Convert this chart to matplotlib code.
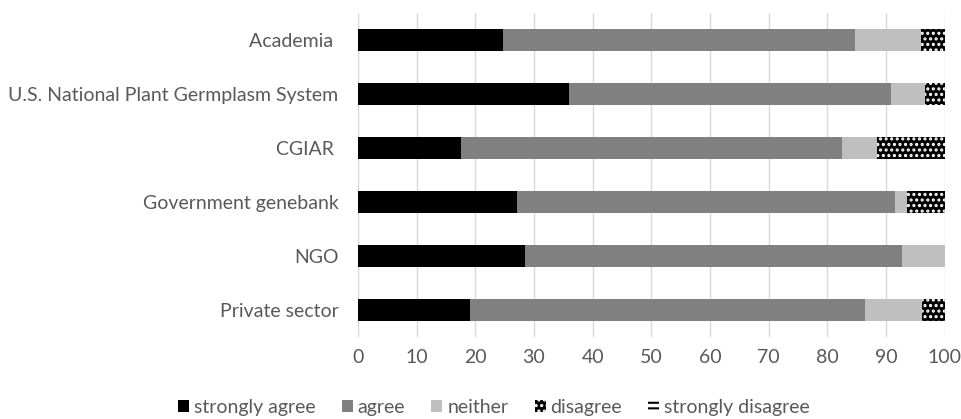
import matplotlib
matplotlib.use("Agg")
import matplotlib.pyplot as plt
import matplotlib.patches as mpatches
import numpy as np

plt.rcParams["font.family"] = ["Lato", "DejaVu Sans"]
plt.rcParams["hatch.linewidth"] = 1.5

categories = ["Academia ", "U.S. National Plant Germplasm System", "CGIAR ",
              "Government genebank", "NGO", "Private sector"]
strongly_agree = [24.7, 36.0, 17.5, 27.1, 28.4, 19.1]
agree = [60.0, 54.8, 65.0, 64.5, 64.4, 67.4]
neither = [11.3, 5.8, 5.9, 1.9, 7.2, 9.6]
disagree = [4.0, 3.4, 11.6, 6.5, 0.0, 3.9]
strongly_disagree = [0, 0, 0, 0, 0, 0]

text_col = "#595959"

fig = plt.figure(figsize=(9.61, 4.19), dpi=100)
ax = fig.add_axes([0.3725, 0.196, 0.6105, 0.773])

y = np.arange(len(categories))[::-1]
h = 0.41
left = np.zeros(len(categories))

ax.barh(y, strongly_agree, h, left=left, color="black", zorder=2)
left += strongly_agree
ax.barh(y, agree, h, left=left, color="#808080", zorder=2)
left += agree
ax.barh(y, neither, h, left=left, color="#bfbfbf", zorder=2)
left += neither
ax.barh(y, disagree, h, left=left, color="black", edgecolor="white",
        linewidth=0, hatch="...", zorder=2)
left += disagree
ax.barh(y, strongly_disagree, h, left=left, color="white", edgecolor="black",
        linewidth=0, hatch="---", zorder=2)

ax.set_xlim(0, 100)
ax.set_ylim(-0.5, 5.5)
ax.set_xticks(np.arange(0, 101, 10))
ax.set_yticks(y)
ax.set_yticklabels(categories)
ax.tick_params(axis="both", length=0, colors=text_col, labelsize=14)
ax.tick_params(axis="y", pad=14)
ax.tick_params(axis="x", pad=9)
ax.grid(axis="x", color="#d9d9d9", linewidth=1, zorder=0)
for s in ax.spines.values():
    s.set_visible(False)

handles = [
    mpatches.Patch(facecolor="black", label="strongly agree"),
    mpatches.Patch(facecolor="#808080", label="agree"),
    mpatches.Patch(facecolor="#bfbfbf", label="neither"),
    mpatches.Patch(facecolor="black", edgecolor="white", linewidth=0, hatch="...", label="disagree"),
    mpatches.Patch(facecolor="white", edgecolor="black", linewidth=0, hatch="---", label="strongly disagree"),
]
leg = fig.legend(handles=handles, loc="lower center", bbox_to_anchor=(0.514, -0.035), ncol=5,
                 frameon=False, fontsize=14, handlelength=0.57, handleheight=0.57,
                 handletextpad=0.25, columnspacing=1.35)
for t in leg.get_texts():
    t.set_color(text_col)

fig.savefig("out.png", dpi=100)
